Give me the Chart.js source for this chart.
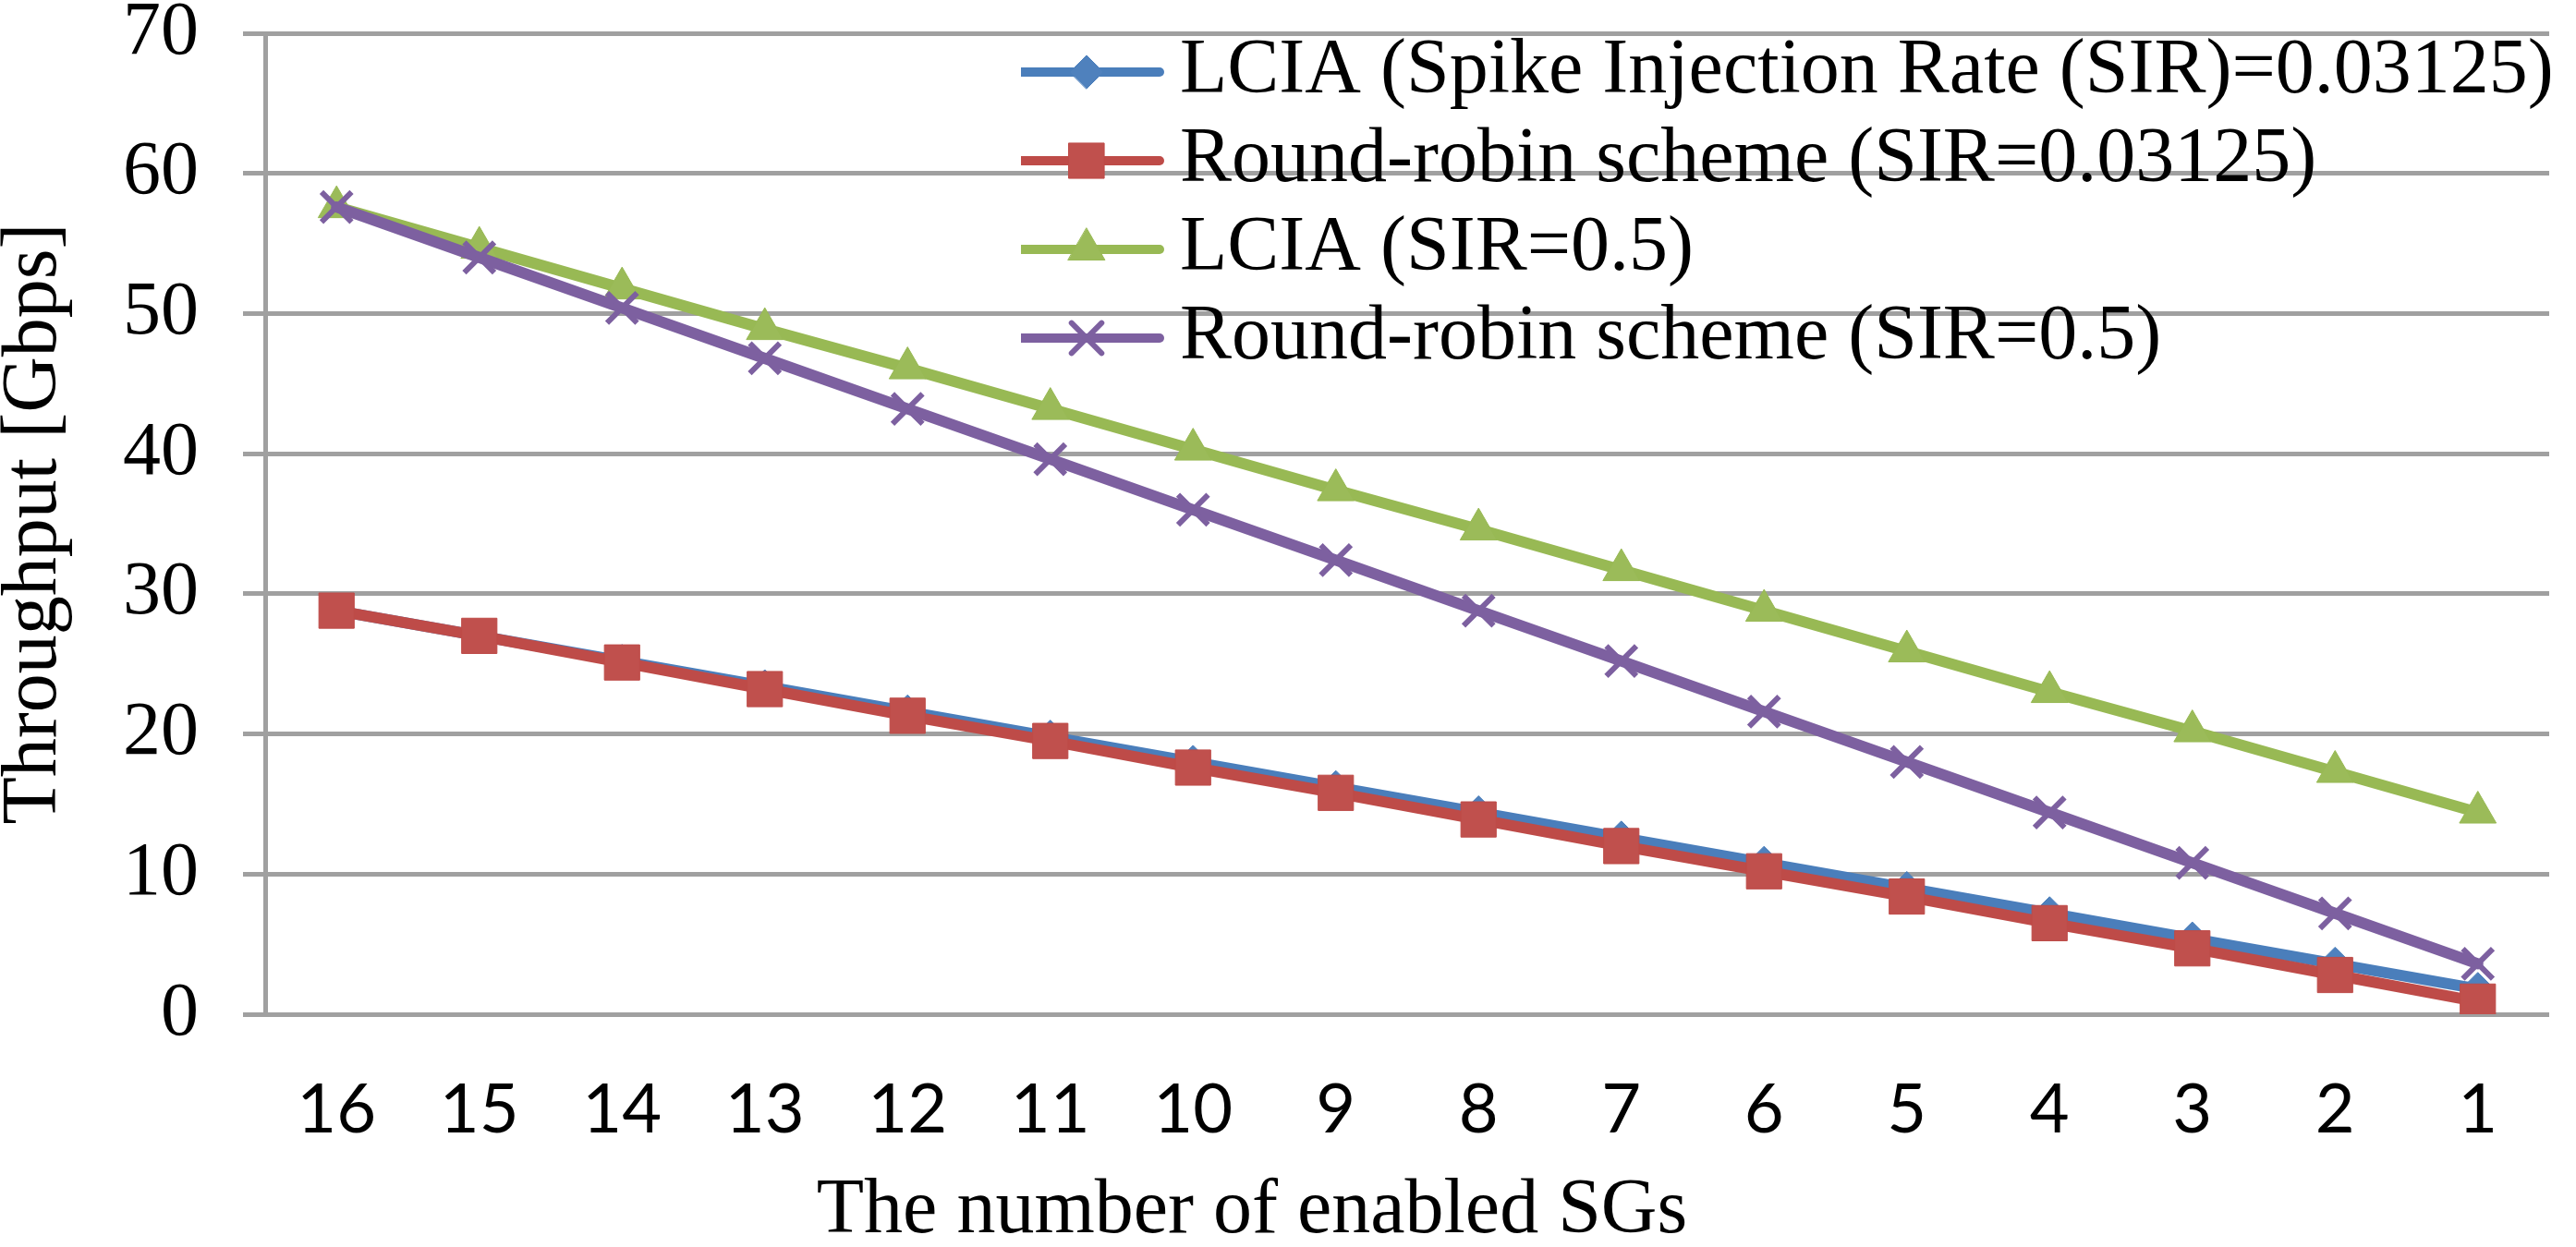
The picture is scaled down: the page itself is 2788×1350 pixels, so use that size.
<!DOCTYPE html>
<html>
<head>
<meta charset="utf-8">
<script src="https://cdn.jsdelivr.net/npm/chart.js@4.4.1/dist/chart.umd.min.js"></script>
<style>
html,body{margin:0;padding:0;background:#ffffff;}
#wrap{width:2788px;height:1350px;position:relative;}
</style>
</head>
<body>
<div id="wrap"><canvas id="c" width="2788" height="1350" style="width:2788px;height:1350px;display:block"></canvas></div>
<script>
// ---- data ----
const categories = ['16','15','14','13','12','11','10','9','8','7','6','5','4','3','2','1'];
const yTickValues = [0, 10, 20, 30, 40, 50, 60, 70];
const seriesNames = [
  'LCIA (Spike Injection Rate (SIR)=0.03125)',
  'Round-robin scheme (SIR=0.03125)',
  'LCIA (SIR=0.5)',
  'Round-robin scheme (SIR=0.5)'
];
const lciaLowSIR = [28.8, 27.0, 25.2, 23.4, 21.6, 19.8, 18.0, 16.2, 14.4, 12.6, 10.8, 9.0, 7.2, 5.4, 3.6, 1.8];
const rrLowSIR   = [28.8, 27.0, 25.1, 23.2, 21.3, 19.5, 17.6, 15.8, 13.9, 12.0, 10.2, 8.4, 6.5, 4.7, 2.8, 0.9];
const lciaHighSIR = [57.6, 54.7, 51.8, 48.9, 46.1, 43.2, 40.3, 37.4, 34.6, 31.7, 28.8, 25.9, 23.0, 20.2, 17.3, 14.4];
const rrHighSIR   = [57.6, 54.0, 50.4, 46.8, 43.2, 39.6, 36.0, 32.4, 28.8, 25.2, 21.6, 18.0, 14.4, 10.8, 7.2, 3.6];
const yTitle = 'Throughput [Gbps]';
const xTitle = 'The number of enabled SGs';

// ---- styles ----
const SERIF = "'Liberation Serif', 'Times New Roman', serif";
const SANS = "Lato, 'Liberation Sans', sans-serif";
const GRID = '#A0A0A0';

const styles = [
  {line:'#4A7EBB', fill:'#4F81BD', edge:'#4A7EBB', shape:'rectRot', r:18, bw:1, order:4},
  {line:'#BE4B48', fill:'#C0504D', edge:'#BE4B48', shape:'rect', r:27, bw:1, order:3},
  {line:'#98B954', fill:'#9BBB59', edge:'#98B954', shape:'triangle', r:23, bw:1, order:2},
  {line:'#7D60A0', fill:'#8064A2', edge:'#7D60A0', shape:'crossRot', r:23, bw:6, order:1}
];
const seriesData = [lciaLowSIR, rrLowSIR, lciaHighSIR, rrHighSIR];

const datasets = seriesData.map((d, i) => ({
  label: seriesNames[i],
  data: d,
  borderColor: styles[i].line,
  backgroundColor: styles[i].fill,
  borderWidth: 12,
  borderCapStyle: 'round',
  borderJoinStyle: 'round',
  tension: 0,
  fill: false,
  pointStyle: styles[i].shape,
  pointRadius: styles[i].r,
  pointHoverRadius: styles[i].r,
  pointBackgroundColor: styles[i].fill,
  pointBorderColor: styles[i].edge,
  pointBorderWidth: styles[i].bw,
  order: styles[i].order
}));

// legend icons: line segment with marker in the middle
function makeIcon(st) {
  const cv = document.createElement('canvas');
  cv.width = 170; cv.height = 64;
  const ctx = cv.getContext('2d');
  ctx.strokeStyle = st.line;
  ctx.lineWidth = 10;
  ctx.lineCap = 'round';
  ctx.beginPath();
  ctx.moveTo(6, 32); ctx.lineTo(164, 32);
  ctx.stroke();
  ctx.fillStyle = st.fill;
  ctx.strokeStyle = st.edge;
  ctx.lineWidth = st.bw;
  Chart.helpers.drawPoint(ctx, {pointStyle: st.shape, radius: st.r, borderWidth: st.bw, rotation: 0}, 85, 32);
  return cv;
}
const icons = styles.map(makeIcon);

const legendPlacer = {
  id: 'legendPlacer',
  afterLayout(chart) {
    const lg = chart.legend;
    if (!lg) return;
    lg.left = 1105; lg.right = 2788;
    lg.top = 24; lg.bottom = 24 + 600;
  }
};

new Chart(document.getElementById('c'), {
  type: 'line',
  data: { labels: categories, datasets: datasets },
  plugins: [legendPlacer],
  options: {
    responsive: false,
    devicePixelRatio: 1,
    animation: false,
    layout: { padding: { top: 36, left: 0, right: 0, bottom: 0 } },
    plugins: {
      tooltip: { enabled: false },
      legend: {
        display: true,
        position: 'chartArea',
        align: 'start',
        labels: {
          usePointStyle: true,
          pointStyleWidth: 118,
          padding: 12,
          color: '#000000',
          font: { family: SERIF, size: 84 },
          sort: (a, b) => a.datasetIndex - b.datasetIndex,
          generateLabels: (chart) => Chart.defaults.plugins.legend.labels.generateLabels(chart)
              .map(l => Object.assign(l, { pointStyle: icons[l.datasetIndex] }))
        }
      }
    },
    scales: {
      x: {
        type: 'category',
        offset: true,
        grid: { display: false, drawTicks: false },
        border: { display: false },
        ticks: { color: '#000000', font: { family: SANS, size: 74 }, padding: 60, maxRotation: 0, autoSkip: false },
        title: { display: true, text: xTitle + ' '.repeat(16), color: '#000000',
                 font: { family: SERIF, size: 84, lineHeight: 0.9 }, padding: 0 },
        afterFit: (s) => { s.height = 252; s.paddingLeft = 0; s.paddingRight = 0; }
      },
      y: {
        min: yTickValues[0],
        max: yTickValues[yTickValues.length - 1],
        afterBuildTicks: (s) => { s.ticks = yTickValues.map(v => ({ value: v })); },
        grid: { color: GRID, lineWidth: 5, tickLength: 24, drawTicks: true },
        border: { display: true, color: GRID, width: 5 },
        ticks: { color: '#000000', font: { family: SERIF, size: 82, lineHeight: 0.8 }, padding: 48 },
        title: { display: true, text: yTitle, color: '#000000',
                 font: { family: SERIF, size: 84, lineHeight: 0.9 }, padding: 0 },
        afterFit: (s) => { s.width = 287; s.paddingTop = 0; s.paddingBottom = 0; }
      }
    }
  }
});
</script>
</body>
</html>
